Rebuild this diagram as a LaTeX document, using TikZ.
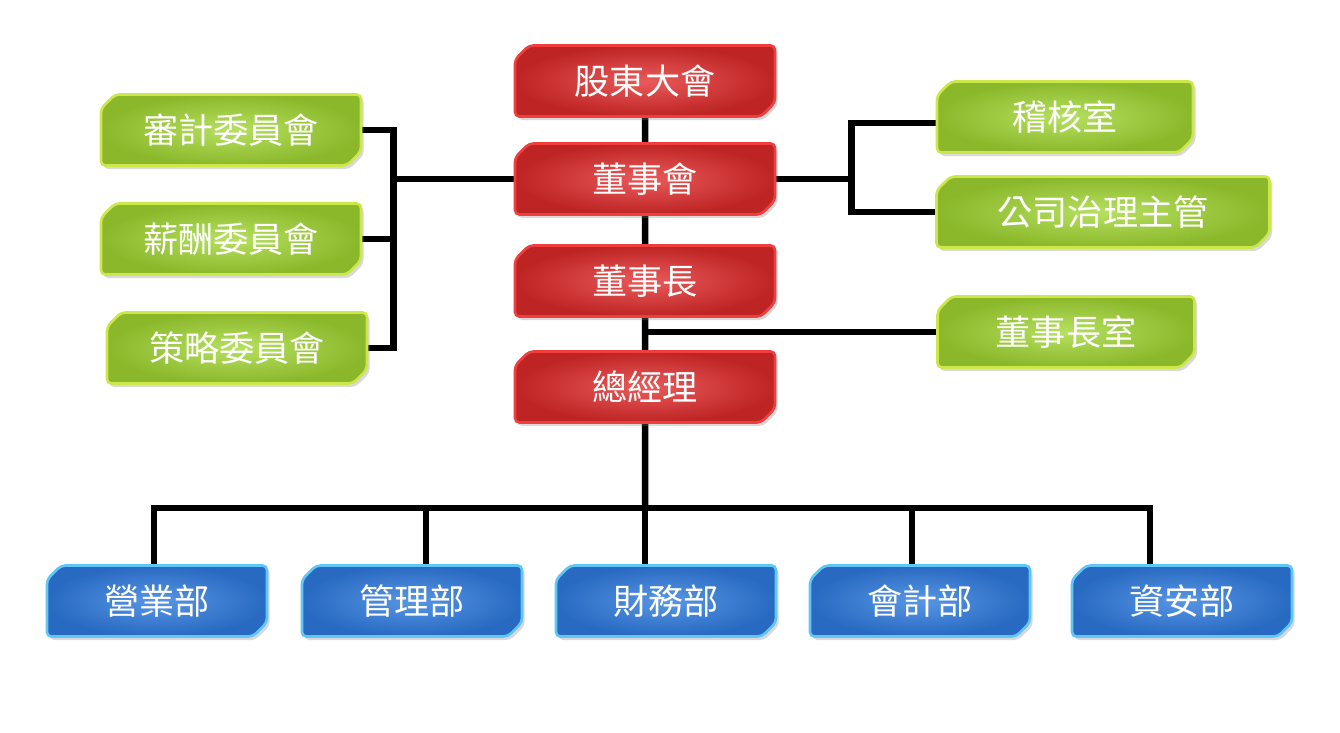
\documentclass[tikz,border=0pt]{standalone}
\usepackage{fontspec}
\newfontfamily\cjk{Noto Sans CJK TC}
\usetikzlibrary{positioning, shapes.misc, shadows, backgrounds}
\definecolor{reddark}{RGB}{190,36,36}
\definecolor{redlight}{RGB}{234,90,90}
\definecolor{redline}{RGB}{240,62,62}
\definecolor{greendark}{RGB}{138,184,42}
\definecolor{greenlight}{RGB}{182,224,96}
\definecolor{greenline}{RGB}{204,232,72}
\definecolor{bluedark}{RGB}{40,106,194}
\definecolor{bluelight}{RGB}{88,150,228}
\definecolor{blueline}{RGB}{96,198,248}

\begin{document}
\begin{tikzpicture}[node distance=2cm,on grid,
    box/.style={chamfered rectangle,chamfered rectangle corners={north west,south east},
      chamfered rectangle xsep=4pt,chamfered rectangle ysep=4pt,rounded corners=2.5pt,
      inner sep=0pt,minimum height=1.42cm,line width=1.5pt,text=white,
      font=\cjk\fontsize{20}{24}\selectfont,
      drop shadow={shadow xshift=1.5pt,shadow yshift=-2pt,opacity=0.3}},
    topbox/.style={box,minimum width=5.2cm,draw=redline,inner color=redlight,outer color=reddark},
    sidebox/.style={box,minimum width=5.2cm,draw=greenline,inner color=greenlight,outer color=greendark},
    deptbox/.style={box,minimum width=4.4cm,draw=blueline,inner color=bluelight,outer color=bluedark},
    link/.style={line width=0.13cm,line join=miter}]
        \useasboundingbox (0,0) rectangle (26.8,-14.64);
        \node[topbox] (sh) at (12.9,-1.62) {股東大會};
        \node[topbox] (bd) [below=1.96cm of sh] {董事會};
        \node[topbox] (ch) [below=2.04cm of bd] {董事長};
        \node[topbox] (gm) [below=2.12cm of ch] {總經理};
        \node[sidebox] (aud) at (4.62,-2.6) {審計委員會};
        \node[sidebox] (rem) [below=2.18cm of aud] {薪酬委員會};
        \node[sidebox] (str) at (4.74,-6.96) {策略委員會};
        \node[sidebox,minimum width=5.12cm] (adt) at (21.3,-2.34) {稽核室};
        \node[sidebox,minimum width=6.66cm] (cg) at (22.06,-4.24) {公司治理主管};
        \node[sidebox,minimum width=5.14cm] (co) at (21.32,-6.64) {董事長室};
        \node[deptbox] (d_1) at (3.14,-12.02) {營業部};
        \node[deptbox] (d_2) [right=5.1cm of d_1] {管理部};
        \node[deptbox] (d_3) [right=5.08cm of d_2] {財務部};
        \node[deptbox] (d_4) [right=5.08cm of d_3] {會計部};
        \node[deptbox] (d_5) [right=5.24cm of d_4] {資安部};
        \coordinate (lj) at ([xshift=-2.4cm]bd.west);
        \coordinate (rj) at ([xshift=1.5cm]bd.east);
        \coordinate (bus) at (12.9,-10.16);
        \begin{scope}[on background layer]
        \draw[link] (sh) -- (gm);
        \draw[link] (gm) -- (bus);
        \draw[link] (bd.west) -- (lj);
        \draw[link] (aud.east) -| (lj) |- (str.east);
        \draw[link] (rem.east) -- (rem.east -| lj);
        \draw[link] (bd.east) -- (rj);
        \draw[link] ([yshift=-0.12cm]adt.west) -| (rj) |- (cg.west);
        \draw[link] (co.west) -- (co.west -| sh);
        \draw[link] ([xshift=-0.06cm]d_1.north) |- (bus) -| ([xshift=-0.64cm]d_5.north);
        \draw[link] ([xshift=0.28cm]d_2.north) -- ([xshift=0.28cm]d_2.north |- bus);
        \draw[link] (bus) -- (bus |- d_3.north);
        \draw[link] ([xshift=-0.16cm]d_4.north) -- ([xshift=-0.16cm]d_4.north |- bus);
        \end{scope}
      \end{tikzpicture}
\end{document}
